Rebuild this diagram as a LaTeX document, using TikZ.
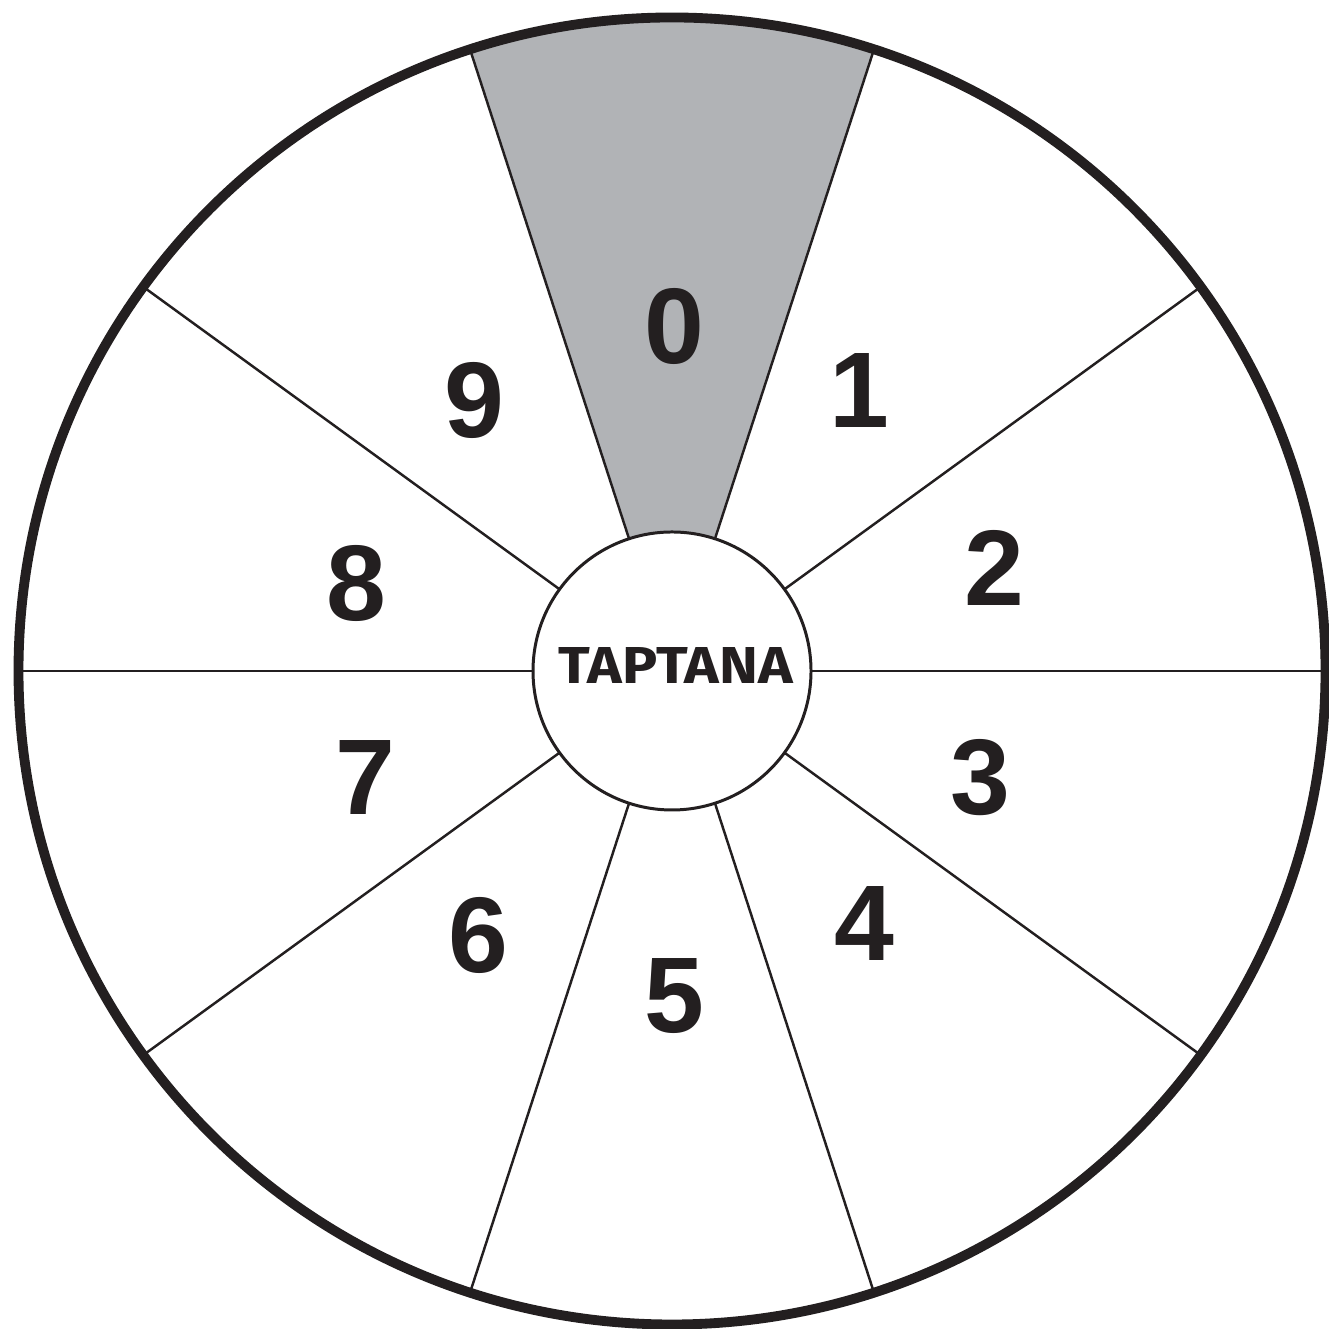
\documentclass[tikz,border=0pt]{standalone}
\usepackage{fontspec}
\usetikzlibrary{calc}
\newfontfamily\digitfont{Liberation Sans}
\newfontfamily\tapfont{Fira Sans}
\definecolor{ink}{RGB}{35,31,32}
\definecolor{sector}{RGB}{177,179,182}
\tikzset{
  digit/.style={inner sep=0pt, text=ink, font=\digitfont\bfseries\fontsize{30.6pt}{30.6pt}\selectfont},
  spoke/.style={draw=ink, line width=0.7pt},
}
\begin{document}
\begin{tikzpicture}
\useasboundingbox[fill=white] (0,0) rectangle (13.28,13.29);
\coordinate (c) at (6.72,6.58);
% gray sector
\fill[sector] ($(c)+(72:1.39cm)$) -- ($(c)+(72:6.535cm)$) arc[start angle=72,end angle=108,radius=6.535cm] -- ($(c)+(108:1.39cm)$) arc[start angle=108,end angle=72,radius=1.39cm] -- cycle;
% spokes
\foreach \a in {0,36,...,324}{
  \coordinate (i\a) at ($(c)+(\a:1.39cm)$);
  \coordinate (o\a) at ($(c)+(\a:6.535cm)$);
  \draw[spoke] (i\a) -- (o\a);
}
% outer circle
\node[draw=ink, line width=2.8pt, circle, minimum size=13.07cm, inner sep=0pt] (outer) at (c) {};
% inner circle
\node[draw=ink, fill=white, line width=0.85pt, circle, minimum size=2.78cm, inner sep=0pt] (hub) at (c) {};
\node[inner sep=0pt, text=ink] (title) at (6.76,6.63) {\resizebox{2.34cm}{0.36cm}{\tapfont\bfseries TAPTANA}};
% digits
\node[digit] (d0) at (6.74,10.02) {0};
\node[digit] (d1) at (8.59,9.38) {1};
\node[digit] (d2) at (9.945,7.61) {2};
\node[digit] (d3) at (9.80,5.51) {3};
\node[digit] (d4) at (8.645,4.05) {4};
\node[digit] (d5) at (6.74,3.33) {5};
\node[digit] (d6) at (4.78,3.94) {6};
\node[digit] (d7) at (3.65,5.51) {7};
\node[digit] (d8) at (3.56,7.46) {8};
\node[digit] (d9) at (4.74,9.29) {9};
\end{tikzpicture}
\end{document}
